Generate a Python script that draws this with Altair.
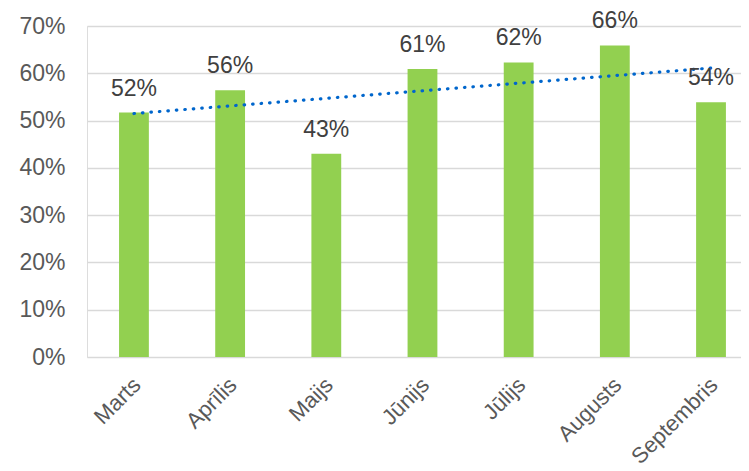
import altair as alt
import pandas as pd

months = ["Marts", "Aprīlis", "Maijs", "Jūnijs", "Jūlijs", "Augusts", "Septembris"]
values = [0.517, 0.564, 0.430, 0.609, 0.623, 0.659, 0.539]
idx = list(range(1, len(months) + 1))

df = pd.DataFrame({"month": months, "value": values, "idx": idx})

FONT = "Liberation Sans"

xscale = alt.Scale(paddingInner=0.69, paddingOuter=0.245, align=0.68)
xenc = alt.X("month:N", sort=months, scale=xscale,
             axis=alt.Axis(title=None, labelAngle=-45, domain=False, ticks=False,
                           labelFontSize=22, labelColor="#595959", labelFont=FONT,
                           labelPadding=17, labelOffset=-4))

base = alt.Chart(df)

bars = base.mark_bar(color="#92D050").encode(
    x=xenc,
    y=alt.Y("value:Q", scale=alt.Scale(domain=[0, 0.7], nice=False),
            axis=alt.Axis(title=None, format=".0%", values=[0, 0.1, 0.2, 0.3, 0.4, 0.5, 0.6, 0.7],
                          domain=False, ticks=False, labelPadding=22,
                          labelFontSize=23, labelColor="#595959", labelFont=FONT,
                          gridColor="#D9D9D9", gridWidth=1.5)),
)

labels = base.mark_text(baseline="alphabetic", dy=-17, fontSize=23, color="#404040", font=FONT).encode(
    x=alt.X("month:N", sort=months),
    y="value:Q",
    text=alt.Text("value:Q", format=".0%"),
)

trend = base.transform_regression("idx", "value").transform_lookup(
    lookup="idx", from_=alt.LookupData(df, "idx", ["month"])
).mark_line(color="#0066CC", strokeWidth=3.2, strokeDash=[0.5, 8], strokeCap="round").encode(
    x=alt.X("month:N", sort=months),
    y="value:Q",
)

chart = alt.layer(bars, trend, labels).properties(
    width=654, height=331,
    autosize=alt.AutoSizeParams(type="none"),
    padding={"left": 79, "top": 18, "right": 0, "bottom": 112},
).configure_view(stroke=None).configure(background="white")

chart.save("out.html", embed_options={"renderer": "svg", "actions": False})
